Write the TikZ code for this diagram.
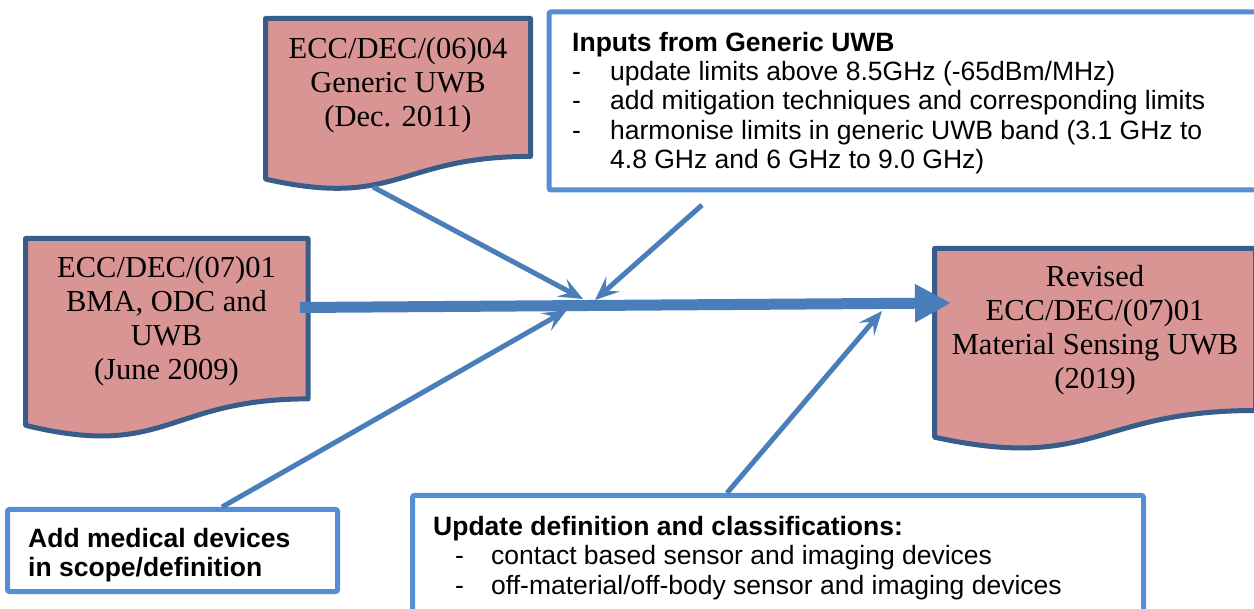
\documentclass[tikz,border=0pt]{standalone}
\usepackage{fontspec}
\setmainfont{Liberation Sans}
\newfontfamily\docfont{Liberation Serif}
\usetikzlibrary{arrows.meta}
\definecolor{docfill}{HTML}{D99594}
\definecolor{docline}{HTML}{385D8A}
\definecolor{boxline}{HTML}{558ED5}
\definecolor{arr}{HTML}{4A7EBB}
\tikzset{
  docshape/.style={fill=docfill, draw=docline, line width=5pt, line join=round},
  doctext/.style={font=\docfont\fontsize{30.5pt}{34pt}\selectfont, align=center, inner sep=0pt},
  notebox/.style={draw=boxline, line width=5pt, fill=white, rounded corners=2pt, inner sep=0pt, outer sep=0pt, anchor=north west},
  notetext/.style={font=\fontsize{26.5pt}{29.3pt}\selectfont, align=left, inner sep=0pt, anchor=north west},
  feedarrow/.style={draw=arr, line width=5pt, -{Stealth[length=24pt,width=20pt,inset=10pt]}},
  mainarrow/.style={draw=arr, line width=11pt, -{Triangle[length=36pt,width=36pt]}},
}
\begin{document}
\begin{tikzpicture}[x=1pt,y=-1pt]
\useasboundingbox[fill=white] (0,0) rectangle (1254,609);

% document shapes
\draw[docshape] (265.5,18.5) -- (530.5,18.5) -- (530.5,156.4) .. controls (398,156.4) and (398,209.0) .. (265.5,179.1) -- cycle;
\node[doctext] (doc1) at (398,84.8) {ECC/DEC/(06)04\\Generic UWB\\(Dec. 2011)};

\draw[docshape] (25.5,238.5) -- (308,238.5) -- (308,398.9) .. controls (166.75,398.9) and (166.75,460) .. (25.5,425.3) -- cycle;
\node[doctext] (doc2) at (166.5,321.4) {ECC/DEC/(07)01\\BMA, ODC and\\UWB\\(June 2009)};

\draw[docshape] (934.5,248.5) -- (1255.5,248.5) -- (1255.5,410.5) .. controls (1095,410.5) and (1095,472.2) .. (934.5,437.2) -- cycle;
\node[doctext] (doc3) at (1095,330.4) {Revised\\ECC/DEC/(07)01\\Material Sensing UWB\\(2019)};

% note boxes
\node[notebox, minimum width=713pt, minimum height=178pt] (inputsbox) at (549,12) {};
\node[notetext] (inputs) at (572,32) {\textbf{Inputs from Generic UWB}\\
\makebox[38pt][l]{-}update limits above 8.5GHz (-65dBm/MHz)\\
\makebox[38pt][l]{-}add mitigation techniques and corresponding limits\\
\makebox[38pt][l]{-}harmonise limits in generic UWB band (3.1 GHz to\\
\hspace*{38pt}4.8 GHz and 6 GHz to 9.0 GHz)};

\node[notebox, minimum width=330pt, minimum height=82pt] (medbox) at (7.5,509.5) {};
\node[notetext] (med) at (28,528) {\textbf{Add medical devices}\\\textbf{in scope/definition}};

\node[notebox, minimum width=731pt, minimum height=130pt] (updbox) at (412.5,495.5) {};
\node[notetext] (upd) at (433,516) {\textbf{Update definition and classifications:}\\
\hspace*{22pt}\makebox[36pt][l]{-}contact based sensor and imaging devices\\
\hspace*{22pt}\makebox[36pt][l]{-}off-material/off-body sensor and imaging devices};

% connector end points
\coordinate (m1) at (300,307.5);
\coordinate (m2) at (951,303);
\coordinate (a1s) at (373,187);
\coordinate (a1e) at (583,299);
\coordinate (a2s) at (702,205);
\coordinate (a2e) at (595,300);
\coordinate (a3s) at (222,507);
\coordinate (a3e) at (567,310);
\coordinate (a4s) at (727,493);
\coordinate (a4e) at (882,311);

\draw[feedarrow] (a1s) -- (a1e);
\draw[feedarrow] (a2s) -- (a2e);
\draw[feedarrow] (a3s) -- (a3e);
\draw[feedarrow] (a4s) -- (a4e);
\draw[mainarrow] (m1) -- (m2);
\end{tikzpicture}
\end{document}
